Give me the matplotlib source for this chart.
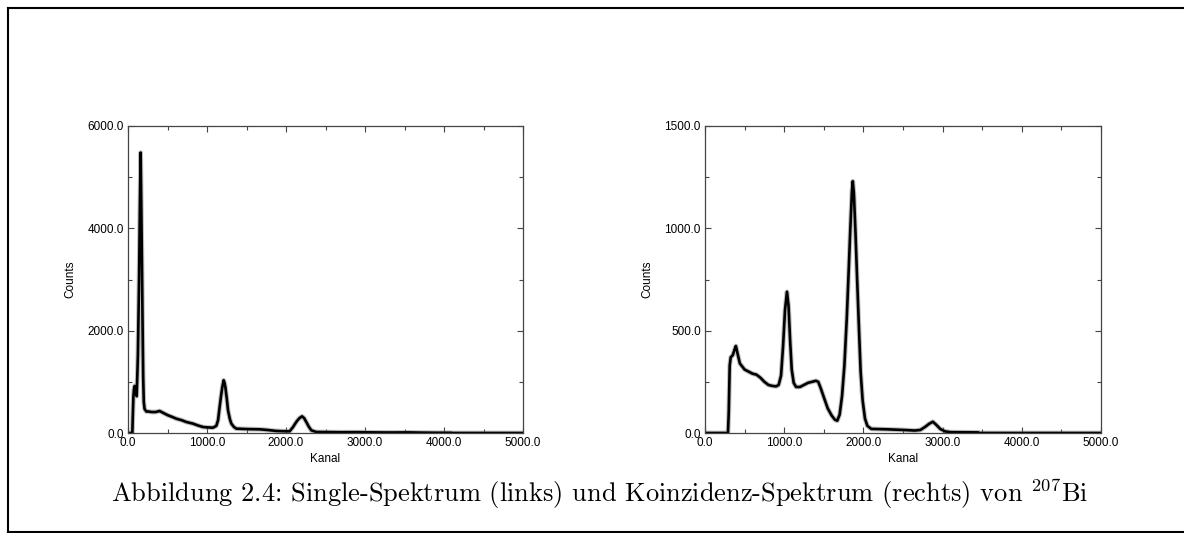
import matplotlib
matplotlib.use("Agg")
import matplotlib.pyplot as plt
from matplotlib.ticker import MultipleLocator, FormatStrFormatter
from matplotlib.lines import Line2D

# ---------------- data ----------------
single_channel = [0, 55, 62, 68, 75, 85, 95, 105, 110, 125, 140, 152, 160, 168, 176, 184,
                  192, 200, 210, 232, 260, 300, 350, 400, 450, 500, 550, 612, 680, 738,
                  823, 880, 949, 1000, 1076, 1118, 1140, 1160, 1180, 1194, 1211, 1222,
                  1232, 1250, 1266, 1290, 1308, 1340, 1371, 1450, 1550, 1667, 1760,
                  1878, 1960, 2046, 2089, 2115, 2139, 2170, 2203, 2230, 2257, 2290, 2321,
                  2384, 2500, 2700, 2900, 3100, 3300, 3565, 3700, 3900, 4093, 4100, 5000]
single_counts = [0, 0, 400, 700, 850, 920, 830, 740, 720, 1500, 3000, 4600, 5480, 4500,
                 3400, 2200, 1100, 600, 470, 420, 420, 410, 410, 430, 390, 350, 320, 280,
                 250, 215, 183, 150, 117, 110, 104, 140, 250, 509, 750, 900, 1030, 980,
                 900, 680, 443, 270, 183, 120, 85, 80, 75, 72, 60, 40, 35, 33, 117, 180,
                 235, 290, 326, 290, 215, 120, 52, 20, 18, 15, 16, 12, 10, 12, 8, 5, 5, 0, 0]

coinc_channel = [0, 290, 300, 312, 325, 350, 375, 390, 410, 440, 500, 550, 600, 650, 700,
                 750, 800, 850, 900, 930, 960, 985, 1010, 1035, 1055, 1075, 1095, 1120,
                 1150, 1200, 1250, 1300, 1350, 1400, 1430, 1460, 1500, 1550, 1600, 1640,
                 1670, 1700, 1730, 1760, 1790, 1815, 1835, 1855, 1866, 1880, 1900, 1920,
                 1945, 1965, 1990, 2020, 2050, 2100, 2300, 2500, 2650, 2720, 2780, 2830,
                 2877, 2920, 2970, 3030, 3100, 3450, 3460, 5000]
coinc_counts = [0, 0, 100, 330, 370, 380, 410, 425, 390, 340, 310, 300, 290, 285, 270,
                250, 235, 230, 228, 235, 280, 420, 600, 690, 620, 450, 310, 245, 225, 225,
                235, 245, 250, 255, 250, 220, 175, 120, 85, 65, 60, 90, 180, 330, 560, 800,
                1000, 1180, 1230, 1170, 980, 760, 500, 300, 160, 70, 35, 20, 18, 15, 12,
                15, 30, 45, 55, 40, 20, 8, 4, 3, 0, 0]

x_ticks = [0, 1000, 2000, 3000, 4000, 5000]
single_yticks = [0, 2000, 4000, 6000]
coinc_yticks = [0, 500, 1000, 1500]

caption = r"Abbildung 2.4: Single-Spektrum (links) und Koinzidenz-Spektrum (rechts) von $^{207}$Bi"

# ---------------- figure ----------------
plt.rcParams["mathtext.fontset"] = "cm"
W, H = 1184, 533
fig = plt.figure(figsize=(W / 100, H / 100), dpi=100)

tick_font = dict(family="Liberation Sans", size=8.5)


def make_axes(left_px, right_px, x, y, yticks, yminor):
    ax = fig.add_axes([left_px / W, (H - 433) / H, (right_px - left_px) / W, 307 / H])
    ax.plot(x, y, color="#888888", lw=3.4, alpha=0.55, solid_joinstyle="round")
    ax.plot(x, y, color="black", lw=1.9, solid_joinstyle="round")
    ax.set_xlim(0, 5000)
    ax.set_ylim(yticks[0], yticks[-1])
    ax.set_xticks(x_ticks)
    ax.set_yticks(yticks)
    ax.xaxis.set_minor_locator(MultipleLocator(500))
    ax.yaxis.set_minor_locator(MultipleLocator(yminor))
    ax.xaxis.set_major_formatter(FormatStrFormatter("%.1f"))
    ax.yaxis.set_major_formatter(FormatStrFormatter("%.1f"))
    ax.tick_params(which="both", direction="in", top=True, right=True,
                   color="#444444", width=0.8)
    ax.tick_params(which="major", length=4, pad=3)
    ax.tick_params(which="minor", length=3)
    for lab in ax.get_xticklabels() + ax.get_yticklabels():
        lab.set_fontfamily("Liberation Sans")
        lab.set_fontsize(8.5)
    for sp in ax.spines.values():
        sp.set_color("#444444")
        sp.set_linewidth(0.9)
    ax.set_xlabel("Kanal", labelpad=3, **tick_font)
    ax.set_ylabel("Counts", labelpad=8, **tick_font)
    return ax


make_axes(128, 523, single_channel, single_counts, single_yticks, 1000)
make_axes(705, 1101, coinc_channel, coinc_counts, coinc_yticks, 250)

fig.text(600 / W, (H - 502) / H, caption, ha="center", va="baseline",
         family="cmr10", fontsize=19)

# outer frame (left, top, bottom visible; right edge is outside the image)
lw = 1.5
fig.add_artist(Line2D([7.5 / W, 7.5 / W], [1.5 / H, (H - 7.5) / H],
                      transform=fig.transFigure, color="black", lw=lw))
fig.add_artist(Line2D([7.5 / W, 1.02], [(H - 7.5) / H, (H - 7.5) / H],
                      transform=fig.transFigure, color="black", lw=lw))
fig.add_artist(Line2D([7.5 / W, 1.02], [1.5 / H, 1.5 / H],
                      transform=fig.transFigure, color="black", lw=lw))

fig.savefig("out.png", dpi=100)
